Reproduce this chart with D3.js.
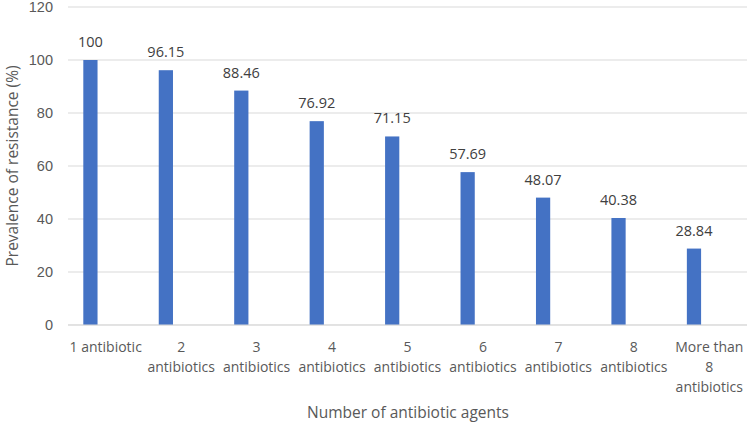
<!DOCTYPE html>
<html><head><meta charset="utf-8">
<script src="https://cdn.jsdelivr.net/npm/d3@7"></script>
<style>
body{margin:0;background:#fff;}
svg{display:block;font-family:"Open Sans","Noto Sans",sans-serif;}
</style></head>
<body><svg id="chart" width="753" height="425"></svg>
<script>
const categories = ["1 antibiotic","2\nantibiotics","3\nantibiotics","4\nantibiotics","5\nantibiotics","6\nantibiotics","7\nantibiotics","8\nantibiotics","More than\n8\nantibiotics"];
const values = [100, 96.15, 88.46, 76.92, 71.15, 57.69, 48.07, 40.38, 28.84];
const yTicks = [0, 20, 40, 60, 80, 100, 120];
const yTitle = "Prevalence of resistance (%)";
const xTitle = "Number of antibiotic agents";

const svg = d3.select("#chart");
const m = {left: 68, right: 6, top: 7, bottom: 100};
const W = 753, H = 425;
const pw = W - m.left - m.right, ph = H - m.top - m.bottom;

const x = d3.scaleBand().domain(categories).range([m.left, m.left + pw]).padding(0);
const y = d3.scaleLinear().domain([0, 120]).range([m.top + ph, m.top]);
// sub-band: bar sits left of centre within each category slot
const xs = d3.scaleBand().domain([0,1,2,3,4]).range([0, x.bandwidth()]).paddingInner(0.07).paddingOuter(0);

// gridlines
svg.append("g").selectAll("line").data(yTicks).join("line")
  .attr("x1", m.left).attr("x2", m.left + pw)
  .attr("y1", d => y(d)).attr("y2", d => y(d))
  .attr("stroke", "#d9d9d9").attr("stroke-width", 1);

// y axis labels
const yAxis = d3.axisLeft(y).tickValues(yTicks).tickSize(0).tickPadding(15);
const yg = svg.append("g").attr("transform", `translate(${m.left},0)`).call(yAxis);
yg.select(".domain").remove();
yg.selectAll("text").attr("fill", "#595959").style("font-size", "14.5px").style("font-family", "inherit");

// bars
svg.append("g").selectAll("rect").data(values).join("rect")
  .attr("x", (d, i) => x(categories[i]) + xs(1))
  .attr("width", xs.bandwidth())
  .attr("y", d => y(d))
  .attr("height", d => y(0) - y(d))
  .attr("fill", "#4472c4");

// value labels
svg.append("g").selectAll("text").data(values).join("text")
  .attr("x", (d, i) => x(categories[i]) + xs(1) + xs.bandwidth() / 2)
  .attr("y", d => y(d) - 13)
  .attr("text-anchor", "middle")
  .attr("fill", "#404040").style("font-size", "14.5px")
  .text(d => String(d));

// x axis line
svg.append("line").attr("x1", m.left).attr("x2", m.left + pw)
  .attr("y1", y(0)).attr("y2", y(0)).attr("stroke", "#d9d9d9");

// category labels
const xg = svg.append("g");
categories.forEach(c => {
  const cx = x(c) + x.bandwidth() / 2;
  const t = xg.append("text")
    .attr("x", cx)
    .attr("y", y(0) + 27)
    .attr("text-anchor", "middle")
    .attr("fill", "#595959").style("font-size", "14px");
  c.split("\n").forEach((line, j) => {
    t.append("tspan").attr("x", cx).attr("dy", j === 0 ? 0 : 20).text(line);
  });
});

// axis titles
svg.append("text").attr("x", 408).attr("y", 418)
  .attr("text-anchor", "middle").attr("fill", "#595959").style("font-size", "15.5px").text(xTitle);
svg.append("text").attr("transform", `translate(18,${166}) rotate(-90)`)
  .attr("text-anchor", "middle").attr("fill", "#595959").style("font-size", "15.5px").text(yTitle);
</script></body></html>
